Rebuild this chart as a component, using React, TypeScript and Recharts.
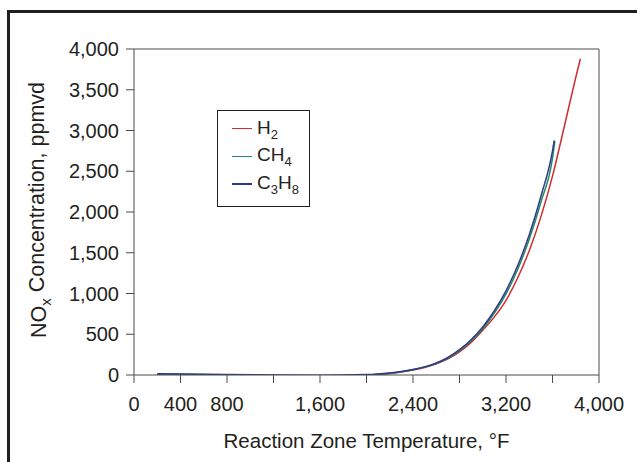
import React from "react"
import {
  Label,
  Line,
  LineChart,
  ReferenceLine,
  XAxis,
  YAxis,
} from "recharts"

const baseTemps = [200, 400, 800, 1200, 1600, 2000, 2200, 2300, 2400, 2500, 2600, 2700, 2800, 2900, 3000, 3100, 3200, 3300, 3400, 3500, 3600]

const h2Temps = [...baseTemps, 3700, 3800, 3840]
const h2Values = [0, -5, -15, -20, -20, -5, 18, 36, 60, 92, 136, 198, 285, 400, 550, 713, 916, 1190, 1525, 1940, 2440, 3040, 3650, 3880]

const ch4Temps = [...baseTemps, 3620]
const ch4Values = [10, 8, 2, -5, -8, 0, 22, 40, 64, 97, 142, 208, 300, 418, 568, 760, 995, 1295, 1665, 2120, 2660, 2870]

const c3h8Temps = [...baseTemps, 3615]
const c3h8Values = [15, 12, 5, 0, -2, 5, 25, 42, 67, 100, 147, 215, 311, 433, 590, 788, 1033, 1340, 1720, 2190, 2750, 2880]

const xTicks = [0, 400, 800, 1200, 1600, 2000, 2400, 2800, 3200, 3600, 4000]
const xTickLabels = [0, 400, 800, 1600, 2400, 3200, 4000]
const yTicks = [0, 500, 1000, 1500, 2000, 2500, 3000, 3500, 4000]

const seriesNames = ["H2", "CH4", "C3H8"]
const seriesColors = ["#d42a32", "#1f8a5c", "#2e3a92"]

const INK = "#231f20"
const AXIS = "#4a4a4a"
const FONT = "'Liberation Sans', Arial, Helvetica, sans-serif"

const toPoints = (temps: number[], values: number[]) =>
  temps.map((t, i) => ({ temp: t, nox: values[i] }))

const seriesData = [
  toPoints(h2Temps, h2Values),
  toPoints(ch4Temps, ch4Values),
  toPoints(c3h8Temps, c3h8Values),
]

const fmt = (v: number) => v.toLocaleString("en-US")

/** Splits a formula like "C3H8" into text with digit subscripts. */
function Formula({ text }: { text: string }) {
  const parts = text.match(/\d+|\D+/g) ?? []
  return (
    <>
      {parts.map((p, i) =>
        /\d/.test(p) ? (
          <span key={i} style={{ fontSize: 13, position: "relative", top: 5 }}>
            {p}
          </span>
        ) : (
          <span key={i}>{p}</span>
        )
      )}
    </>
  )
}

function LegendBox() {
  return (
    <div
      style={{
        position: "absolute",
        left: 217,
        top: 110,
        width: 93,
        height: 97,
        boxSizing: "border-box",
        border: `1px solid ${INK}`,
        background: "#fff",
        fontFamily: FONT,
        fontSize: 19,
        color: INK,
      }}
    >
      {seriesNames.map((name, i) => (
        <div
          key={name}
          style={{
            position: "absolute",
            left: 14,
            top: 17.5 + i * 27.8 - 11,
            height: 22,
            display: "flex",
            alignItems: "center",
            whiteSpace: "nowrap",
          }}
        >
          <div style={{ width: 20, height: 1.5, background: seriesColors[i], marginRight: 5 }} />
          <span style={{ lineHeight: "22px" }}>
            <Formula text={name} />
          </span>
        </div>
      ))}
    </div>
  )
}

function YTitle({ viewBox }: { viewBox?: { x: number; y: number; width: number; height: number } }) {
  if (!viewBox) return null
  const x = viewBox.x + 46
  const y = viewBox.y + viewBox.height / 2 - 2
  return (
    <text
      x={x}
      y={y}
      transform={`rotate(-90 ${x} ${y})`}
      textAnchor="middle"
      fontSize={21.5}
      fill={INK}
      fontFamily={FONT}
    >
      NO
      <tspan fontSize={15} dy="0.3em">x</tspan>
      <tspan dy="-0.3em"> Concentration, ppmvd</tspan>
    </text>
  )
}

function XTitle({ viewBox }: { viewBox?: { x: number; y: number; width: number; height: number } }) {
  if (!viewBox) return null
  return (
    <text
      x={viewBox.x + viewBox.width / 2}
      y={viewBox.y + 73}
      textAnchor="middle"
      fontSize={20.5}
      fill={INK}
      fontFamily={FONT}
    >
      Reaction Zone Temperature, °F
    </text>
  )
}

export default function App() {
  return (
    <div
      style={{
        position: "absolute",
        left: 0,
        top: 0,
        width: 637,
        height: 462,
        overflow: "hidden",
        background: "#fff",
      }}
    >
      <div
        style={{
          position: "absolute",
          left: 7,
          top: 10,
          width: 700,
          height: 520,
          border: `3.5px solid ${INK}`,
        }}
      />
      <div style={{ position: "absolute", left: 0, top: 0 }}>
        <LineChart
          width={637}
          height={462}
          margin={{ top: 49, right: 38, bottom: 0, left: 0 }}
          style={{ fontFamily: FONT }}
        >
          <XAxis
            type="number"
            dataKey="temp"
            domain={[0, 4000]}
            ticks={xTicks}
            tickFormatter={(v: number) => (xTickLabels.includes(v) ? fmt(v) : "")}
            tick={{ fontSize: 20, fill: INK }}
            tickSize={8}
            tickMargin={14}
            stroke={AXIS}
            height={87}
            allowDuplicatedCategory={false}
          >
            <Label content={<XTitle />} />
          </XAxis>
          <YAxis
            type="number"
            domain={[0, 4000]}
            allowDataOverflow
            ticks={yTicks}
            tickFormatter={fmt}
            tick={{ fontSize: 20, fill: INK }}
            tickSize={8}
            tickMargin={7}
            stroke={AXIS}
            width={134}
          >
            <Label content={<YTitle />} />
          </YAxis>
          <ReferenceLine y={4000} stroke={AXIS} />
          <ReferenceLine x={4000} stroke={AXIS} />
          {seriesData.map((d, i) => (
            <Line
              key={seriesNames[i]}
              data={d}
              dataKey="nox"
              name={seriesNames[i]}
              type="monotone"
              stroke={seriesColors[i]}
              strokeWidth={1.5}
              dot={false}
              activeDot={false}
              isAnimationActive={false}
            />
          ))}
        </LineChart>
      </div>
      <LegendBox />
    </div>
  )
}
